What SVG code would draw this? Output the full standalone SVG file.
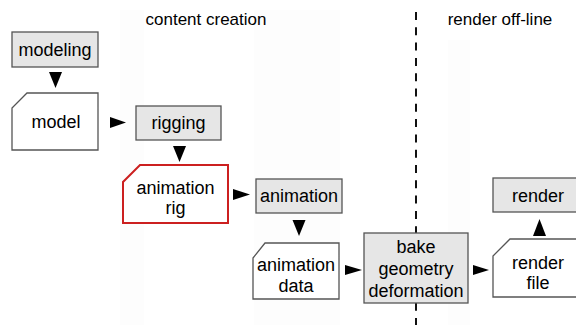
<svg xmlns="http://www.w3.org/2000/svg" width="576" height="325" viewBox="0 0 576 325">
<style>
text{font-family:"Liberation Sans",Arial,sans-serif;font-size:18px;fill:#000;text-anchor:middle}
.hdr{font-size:17px}
.proc{fill:#e6e6e6;stroke:#555;stroke-width:1.3}
.doc{fill:#fff;stroke:#555;stroke-width:1.3}
.red{fill:#fff;stroke:#cc2020;stroke-width:2}
.arr{fill:#000}
.band{fill:#fdfdfd}
</style>
<rect width="576" height="325" fill="#fff"/>
<g id="bands">
<rect class="band" x="120" y="10" width="24" height="315"/>
<rect class="band" x="254" y="10" width="86" height="315"/>
<rect class="band" x="448" y="40" width="22" height="285"/>
</g>
<g id="headers">
<text class="hdr" x="206" y="25">content creation</text>
<text class="hdr" x="500" y="25">render off-line</text>
</g>
<line id="divider" x1="416" y1="12" x2="416" y2="325" stroke="#111" stroke-width="2" stroke-dasharray="8 7.3"/>
<g id="modeling"><rect class="proc" x="12" y="32" width="86" height="35"/><text x="55" y="56">modeling</text></g>
<g id="model"><path class="doc" d="M27,93 H98 V150 H12 V108 Z"/><text x="56" y="128">model</text></g>
<g id="rigging"><rect class="proc" x="136" y="106" width="85" height="34"/><text x="178.5" y="129">rigging</text></g>
<g id="animation-rig"><path class="red" d="M140,165 H228 V223 H123 V182 Z"/><text x="175.5" y="194">animation</text><text x="175.5" y="214">rig</text></g>
<g id="animation"><rect class="proc" x="256" y="179" width="86" height="34"/><text x="299" y="202">animation</text></g>
<g id="animation-data"><path class="doc" d="M265,243 H339 V299 H253 V258 Z"/><text x="296" y="271">animation</text><text x="296" y="292">data</text></g>
<g id="bake"><rect class="proc" x="364" y="233" width="104" height="70"/><text x="416" y="253">bake</text><text x="416" y="275">geometry</text><text x="416" y="297">deformation</text></g>
<g id="render"><rect class="proc" x="493" y="178" width="92" height="34"/><text x="538" y="202">render</text></g>
<g id="render-file"><path class="doc" d="M510,239 H586 V297 H493 V256 Z"/><text x="538" y="269">render</text><text x="538" y="289">file</text></g>
<g id="connectors">
<path class="arr" d="M49,72 H62 L55.5,88 Z"/>
<path class="arr" d="M110,117 L126,122.5 L110,128 Z"/>
<path class="arr" d="M173,146 H186 L179.5,162 Z"/>
<path class="arr" d="M233,189 L250,194.5 L233,200 Z"/>
<path class="arr" d="M292.5,220 H305.5 L299,236 Z"/>
<path class="arr" d="M345,265 L362,270 L345,275 Z"/>
<path class="arr" d="M473,265 L489,270 L473,275 Z"/>
<path class="arr" d="M533,236 H546 L539.5,219 Z"/>
</g>
</svg>
